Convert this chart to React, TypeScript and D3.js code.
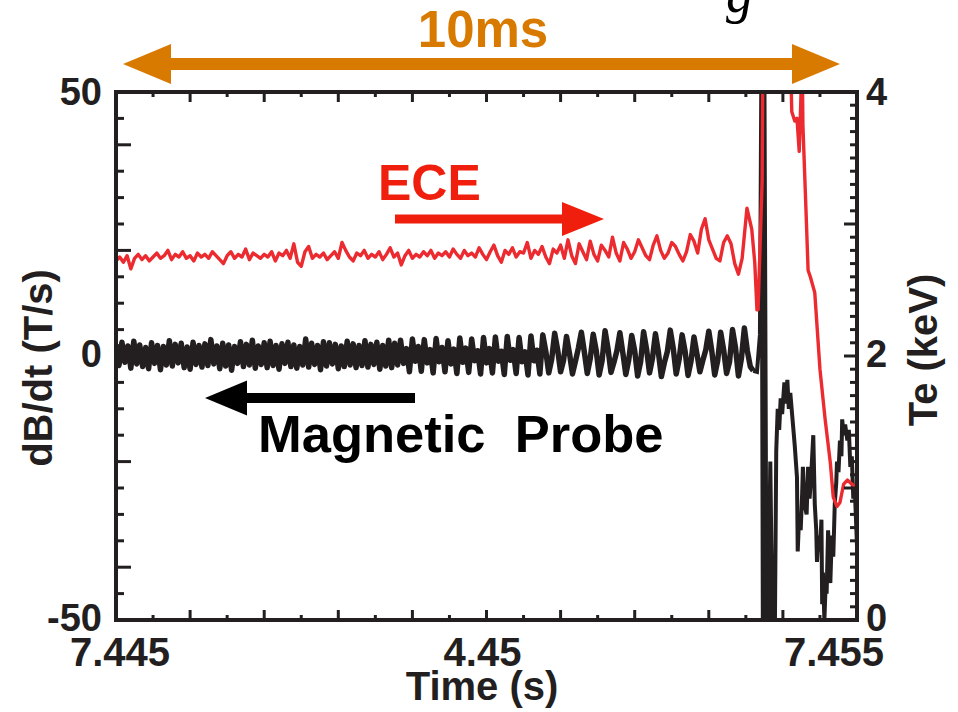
import React from "react";
import * as d3 from "d3";

// ---------- data ----------
// time is in ms after 7.445 s
const timeDomainMs = [0, 10];
const timeTickLabels = ["7.445", "4.45", "7.455"];
const timeTickLabelMs = [0, 5, 10];
const dBdtTickLabels = ["50", "0", "-50"];
const dBdtTickValues = [50, 0, -50];
const teTickLabels = ["4", "2", "0"];
const teTickValues = [4, 2, 0];

// Magnetic probe dB/dt (T/s), sampled every 0.04 ms from t = 0 to 8.6 ms
const probeDt = 0.04;
const probeGrid = [
  2.2, -1.8, 2.6, -1.2, 1.9, -2.3, 2.8, -1.5, 2.1, -2.0, 1.6, -2.4,
  2.5, -1.4, 2.0, -2.6, 1.8, -1.7, 2.9, -1.9, 2.2, -1.3, 2.4, -2.2,
  1.7, -2.5, 2.6, -1.6, 2.0, -2.1, 2.3, -1.8, 3.1, -1.5, 1.9, -2.4,
  2.4, -1.9, 2.1, -2.7, 1.8, -1.4, 2.7, -2.0, 2.2, -1.7, 3.0, -2.3,
  1.9, -1.6, 2.5, -2.2, 2.8, -1.8, 2.0, -2.5, 2.3, -1.4, 2.6, -2.0,
  2.1, -2.3, 1.8, -1.7, 3.2, -2.1, 2.4, -1.6, 2.0, -2.6, 2.7, -1.9,
  2.5, -1.5, 2.2, -2.4, 1.9, -2.0, 2.8, -1.7, 2.3, -2.2, 2.0, -1.8,
  2.9, -2.1, 2.2, -1.6, 2.6, -2.5, 2.0, -1.9, 3.0, -2.2, 2.4, -1.7,
  3.0, -1.4, 1.4, -3.0, 3.2, -1.0, 1.8, -2.9, 3.1, -1.3, 1.2, -3.2,
  3.3, -1.1, 1.6, -3.0, 2.9, -1.5, 1.3, -3.3, 3.4, -1.2, 1.5, -3.1,
  3.2, -0.9, 1.0, -3.4, 3.5, -1.3, 1.4, -3.2, 3.6, -1.0, 0.9, -3.5,
  3.7, -0.8, 1.2, -3.3, 3.5, -1.1, 0.8, -3.6, 3.8, -0.9, 1.1, -3.4,
  4.0, 0.9, -3.2, -0.6, 4.3, 1.2, -3.0, -0.8, 3.7, 0.5, -3.4, -1.0,
  1.5, 4.5, 0.8, -3.3, -0.5, 4.1, 1.1, -3.6, -0.9, 4.8, 1.4, -3.1,
  -1.2, 1.0, 4.4, 0.6, -3.5, -0.7, 3.9, 1.0, -3.8, -1.1, 4.6, 1.3,
  -3.2, -0.4, 4.2, 0.7, -3.9, -1.3, 0.8, 4.9, 1.5, -3.4, -0.6, 4.0,
  0.9, -3.7, -1.0, 3.6, 0.4, -3.0, -0.8, 1.2, 4.7, 1.0, -3.6, -0.9,
  4.5, 1.2, -3.3, -1.1, 5.0, 1.6, -3.8, -0.5, 5.3, 1.0, -2.0, -2.8,
];
// Disruption and after (ms, T/s)
const probeTailTimes = [
  8.65, 8.69, 8.71, 8.73, 8.75, 8.78, 8.80, 8.83, 8.86, 8.89, 8.91, 8.93,
  8.95, 8.97, 8.99, 9.02, 9.04, 9.06, 9.08, 9.10, 9.13, 9.16, 9.19, 9.20,
  9.22, 9.24, 9.26, 9.27, 9.29, 9.32, 9.34, 9.36, 9.38, 9.41, 9.43, 9.45,
  9.46, 9.48, 9.50, 9.52, 9.53, 9.54, 9.56, 9.58, 9.59, 9.61, 9.63, 9.64,
  9.66, 9.68, 9.70, 9.72, 9.73, 9.75, 9.77, 9.79, 9.80, 9.82, 9.84, 9.87,
  9.89, 9.91, 9.93, 9.95, 9.97, 10.0,
];
const probeTail = [
  -3.0, 4.0, 56, -55, 55, -55, -55, -20, -55, -55, -18, -10,
  -14, -8, -11, -5, -9, -4.5, -10, -7, -12, -17, -23, -37,
  -30, -33, -26, -21, -28, -30, -21, -27, -23, -15, -28, -33,
  -39, -34, -37, -31, -47, -41, -50, -42, -45, -33, -40, -43,
  -34, -38, -28, -24, -20, -22, -16, -19, -12, -15, -13, -16,
  -14, -21, -19, -27, -25, -36,
];

// ECE Te (keV), sampled every 0.05 ms from t = 0 to 8.45 ms
const eceDt = 0.05;
const eceGrid = [
  2.72, 2.75, 2.71, 2.76, 2.66, 2.74, 2.77, 2.73, 2.76, 2.72,
  2.75, 2.78, 2.74, 2.76, 2.80, 2.73, 2.77, 2.75, 2.79, 2.74,
  2.76, 2.72, 2.78, 2.75, 2.77, 2.74, 2.79, 2.76, 2.73, 2.70,
  2.76, 2.79, 2.74, 2.77, 2.75, 2.81, 2.73, 2.78, 2.76, 2.74,
  2.77, 2.75, 2.79, 2.72, 2.78, 2.76, 2.80, 2.74, 2.85, 2.71,
  2.68, 2.79, 2.83, 2.74, 2.77, 2.75, 2.78, 2.73, 2.76, 2.79,
  2.74, 2.86, 2.80, 2.75, 2.72, 2.78, 2.76, 2.80, 2.74, 2.77,
  2.75, 2.79, 2.73, 2.77, 2.82, 2.75, 2.78, 2.69, 2.76, 2.80,
  2.74, 2.77, 2.75, 2.79, 2.76, 2.80, 2.74, 2.78, 2.76, 2.79,
  2.75, 2.81, 2.77, 2.74, 2.80, 2.76, 2.78, 2.75, 2.82, 2.77,
  2.73, 2.79, 2.84, 2.76, 2.71, 2.80, 2.77, 2.82, 2.75, 2.79,
  2.78, 2.86, 2.74, 2.80, 2.77, 2.83, 2.75, 2.70, 2.81, 2.78,
  2.84, 2.74, 2.88, 2.76, 2.70, 2.85, 2.79, 2.73, 2.87, 2.77,
  2.72, 2.84, 2.80, 2.75, 2.90, 2.78, 2.72, 2.86, 2.81, 2.74,
  2.79, 2.88, 2.82, 2.76, 2.73, 2.84, 2.91, 2.80, 2.74, 2.78,
  2.86, 2.83, 2.77, 2.72, 2.79, 2.92, 2.87, 2.78, 2.96, 3.04,
  2.88, 2.81, 2.74, 2.72, 2.86, 2.91, 2.85, 2.70, 2.62, 2.74,
];
const eceTailTimes = [
  8.515, 8.58, 8.62, 8.65, 8.665, 8.72, 8.73, 9.10, 9.12, 9.16, 9.19, 9.22,
  9.24, 9.26, 9.27, 9.31, 9.34, 9.37, 9.43, 9.50, 9.57, 9.64, 9.68, 9.73,
  9.77, 9.82, 9.87, 9.95, 10.0,
];
const eceTail = [
  3.12, 2.96, 2.71, 2.35, 2.35, 3.33, 4.3, 4.3, 3.85, 3.78, 3.80, 3.55,
  3.90, 4.3, 3.75, 3.13, 2.65, 2.60, 2.48, 1.90, 1.52, 1.19, 0.93, 0.86,
  0.89, 1.03, 1.06, 1.02, 0.99,
];

// ---------- layout ----------
const W = 958;
const H = 712;
const L = 116, R = 857, T = 92, B = 620;
const INK = "#231f20";
const TRACE_RED = "#ec2b30";
const LABEL_RED = "#f01e0c";
const ORANGE = "#d97a00";
const FONT = "'Liberation Sans', Arial, Helvetica, sans-serif";

export default function App() {
  const x = d3.scaleLinear().domain(timeDomainMs).range([L, R]);
  const yL = d3.scaleLinear().domain([-50, 50]).range([B, T]);
  const yR = d3.scaleLinear().domain([0, 4]).range([B, T]);

  const probePts: [number, number][] = probeGrid
    .map((v, i) => [i * probeDt, v] as [number, number])
    .concat(probeTailTimes.map((t, i) => [t, probeTail[i]] as [number, number]));
  const ecePts: [number, number][] = eceGrid
    .map((v, i) => [i * eceDt, v] as [number, number])
    .concat(eceTailTimes.map((t, i) => [t, eceTail[i]] as [number, number]));

  const probeLine = d3
    .line<[number, number]>()
    .x((d) => x(d[0]))
    .y((d) => yL(d[1]));
  const eceLine = d3
    .line<[number, number]>()
    .x((d) => x(d[0]))
    .y((d) => yR(d[1]));

  const leftTicks = d3.range(-45, 50, 5);
  const rightTicks = d3.range(1, 40).map((k) => k / 10);
  const timeTicks = d3.range(1, 20).map((k) => k * 0.5);

  const arrow = (x1: number, x2: number, y: number, shaft: number, headL: number, headH: number) => {
    const dir = x2 > x1 ? 1 : -1;
    const base = x2 - dir * headL;
    const p = d3.path();
    p.moveTo(x1, y - shaft / 2);
    p.lineTo(base, y - shaft / 2);
    p.lineTo(base, y - headH / 2);
    p.lineTo(x2, y);
    p.lineTo(base, y + headH / 2);
    p.lineTo(base, y + shaft / 2);
    p.lineTo(x1, y + shaft / 2);
    p.closePath();
    return p.toString();
  };
  const doubleArrow = (x1: number, x2: number, y: number, shaft: number, headL: number, headH: number) => {
    const p = d3.path();
    p.moveTo(x1, y);
    p.lineTo(x1 + headL, y - headH / 2);
    p.lineTo(x1 + headL, y - shaft / 2);
    p.lineTo(x2 - headL, y - shaft / 2);
    p.lineTo(x2 - headL, y - headH / 2);
    p.lineTo(x2, y);
    p.lineTo(x2 - headL, y + headH / 2);
    p.lineTo(x2 - headL, y + shaft / 2);
    p.lineTo(x1 + headL, y + shaft / 2);
    p.lineTo(x1 + headL, y + headH / 2);
    p.closePath();
    return p.toString();
  };

  const gridEnd = (probeGrid.length - 1) * probeDt;
  const preDisruption = probePts.filter((d) => d[0] <= gridEnd);
  const postDisruption = probePts.filter((d) => d[0] >= gridEnd);

  return (
    <svg
      width={W}
      height={H}
      viewBox={`0 0 ${W} ${H}`}
      style={{ position: "absolute", left: 0, top: 0, background: "#fff" }}
      fontFamily={FONT}
      fontWeight="bold"
    >
      <defs>
        <clipPath id="plotClip">
          <rect x={L} y={T} width={R - L} height={B - T} />
        </clipPath>
      </defs>
      <rect x={0} y={0} width={W} height={H} fill="#fff" />

      {/* partial title glyph at top */}
      <text x={726} y={12} fontFamily="'Liberation Serif', 'Times New Roman', serif" fontStyle="italic" fontWeight="normal" fontSize={54} fill="#000">
        g
      </text>

      {/* 10 ms arrow */}
      <path d={doubleArrow(123, 840, 64, 12, 48, 40)} fill={ORANGE} />
      <text x={483} y={47} textAnchor="middle" fontSize={51} fill={ORANGE}>
        10ms
      </text>

      {/* traces */}
      <g clipPath="url(#plotClip)">
        <path d={probeLine(preDisruption) || ""} fill="none" stroke={INK} strokeWidth={5.5} strokeLinejoin="round" />
        <path d={probeLine(postDisruption) || ""} fill="none" stroke={INK} strokeWidth={4} strokeLinejoin="miter" />
        <path d={eceLine(ecePts) || ""} fill="none" stroke={TRACE_RED} strokeWidth={3.4} strokeLinejoin="round" />
      </g>

      {/* annotations */}
      <text x={378} y={200} fontSize={50} fill={LABEL_RED}>
        ECE
      </text>
      <path d={arrow(395, 604, 219, 9, 42, 34)} fill={LABEL_RED} />
      <path d={arrow(415, 205, 398, 10, 42, 35)} fill="#000" />
      <text x={258} y={452} fontSize={52.5} fill="#000" xmlSpace="preserve">
        Magnetic  Probe
      </text>

      {/* ticks */}
      <g stroke={INK} strokeWidth={3}>
        {leftTicks.map((v) => (
          <line key={"l" + v} x1={L} x2={L + (v % 20 === 0 ? 15 : 8)} y1={yL(v)} y2={yL(v)} />
        ))}
        {rightTicks.map((v) => (
          <line
            key={"r" + v}
            x1={R}
            x2={R - (Math.abs(v - Math.round(v)) < 1e-6 ? 13 : 7)}
            y1={yR(v)}
            y2={yR(v)}
          />
        ))}
        {timeTicks.map((t) => {
          const major = Math.abs(t - Math.round(t)) < 1e-6;
          return (
            <g key={"t" + t}>
              <line x1={x(t)} x2={x(t)} y1={B} y2={B - (major ? 10 : 5)} />
              <line x1={x(t)} x2={x(t)} y1={T} y2={T + (major ? 10 : 5)} />
            </g>
          );
        })}
      </g>

      {/* frame */}
      <rect x={L} y={T} width={R - L} height={B - T} fill="none" stroke={INK} strokeWidth={4} />

      {/* tick labels */}
      <g fill={INK} fontSize={38}>
        {dBdtTickValues.map((v, i) => (
          <text key={"ll" + v} x={102} y={yL(v) + (v === 50 ? 13 : 11)} textAnchor="end">
            {dBdtTickLabels[i]}
          </text>
        ))}
        {teTickValues.map((v, i) => (
          <text key={"rl" + v} x={866} y={yR(v) + (v === 4 ? 13 : 11)} textAnchor="start">
            {teTickLabels[i]}
          </text>
        ))}
        {timeTickLabelMs.map((t, i) => (
          <text
            key={"tl" + t}
            x={i === 0 ? x(t) + 4 : i === 2 ? x(t) - 23 : x(t) - 4}
            y={666}
            textAnchor="middle"
            fontSize={40}
          >
            {timeTickLabels[i]}
          </text>
        ))}
      </g>

      {/* axis titles */}
      <g fill={INK} fontSize={40}>
        <text x={482} y={700} textAnchor="middle">
          Time (s)
        </text>
        <text transform="translate(52,368) rotate(-90)" textAnchor="middle">
          dB/dt (T/s)
        </text>
        <text transform="translate(937,350) rotate(-90)" textAnchor="middle">
          Te (keV)
        </text>
      </g>
    </svg>
  );
}
